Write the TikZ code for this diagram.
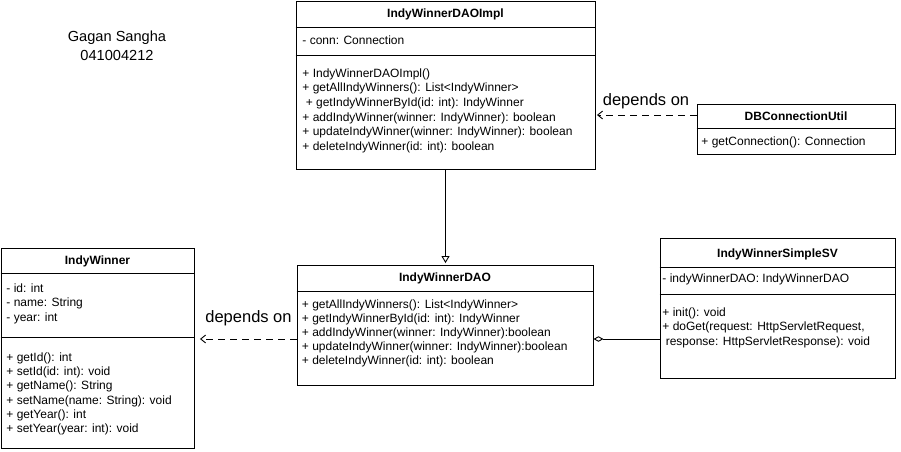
\documentclass[tikz,border=0pt]{standalone}
\usepackage{fontspec}
\setmainfont{Liberation Sans}
\usepackage{tikz}
\usetikzlibrary{arrows.meta}

\begin{document}
\begin{tikzpicture}[x=1pt,y=-1pt,line width=0.9pt,
                    font=\fontsize{12}{14.5}\selectfont]
	\tikzstyle{classbox}=[draw,rectangle,inner sep=0pt]
	\tikzstyle{classname}=[font=\fontsize{12}{14.5}\selectfont\bfseries]
	\tikzstyle{members}=[anchor=north west,inner sep=0pt,align=left]
	\tikzstyle{depends}=[dash pattern=on 7pt off 5pt,
	                     -{Straight Barb[length=5pt,width=8pt,line width=0.9pt]}]
	\tikzstyle{bigtext}=[font=\fontsize{14.6}{19}\selectfont]
	\tikzstyle{labeltext}=[font=\fontsize{16.5}{19}\selectfont]

	\useasboundingbox (0,0) rectangle (901,451);

	% author
	\node[bigtext,align=center] (author) at (117,45.5) {Gagan Sangha\\041004212};

	% classes
	\node[classbox,minimum width=299,minimum height=168] (impl) at (445.5,85) {};
	\node[classname] (impltitle) at (445.5,14.5) {IndyWinnerDAOImpl};
	\draw ([yshift=-27pt]impl.north west) -- ([yshift=-27pt]impl.north east);
	\draw ([yshift=-55pt]impl.north west) -- ([yshift=-55pt]impl.north east);
	\node[anchor=west,inner sep=0pt] (implattr) at (302,40) {- conn: Connection};
	\node[members,font=\fontsize{12}{14.66}\selectfont] (implops) at (302,68)
		{+ IndyWinnerDAOImpl()\\
		 + getAllIndyWinners(): List<IndyWinner>\\
		 \ + getIndyWinnerById(id: int): IndyWinner\\
		 + addIndyWinner(winner: IndyWinner): boolean\\
		 + updateIndyWinner(winner: IndyWinner): boolean\\
		 + deleteIndyWinner(id: int): boolean};

	\node[classbox,minimum width=198,minimum height=50] (dbutil) at (796,129) {};
	\node[classname] (dbutiltitle) at (796,116.5) {DBConnectionUtil};
	\draw ([yshift=-25pt]dbutil.north west) -- ([yshift=-25pt]dbutil.north east);
	\node[anchor=west,inner sep=0pt] (dbutilops) at (701,142) {+ getConnection(): Connection};

	\node[classbox,minimum width=193,minimum height=200] (winner) at (97.5,348) {};
	\node[classname] (winnertitle) at (97.5,261) {IndyWinner};
	\draw ([yshift=-26pt]winner.north west) -- ([yshift=-26pt]winner.north east);
	\draw ([yshift=-90pt]winner.north west) -- ([yshift=-90pt]winner.north east);
	\node[members] (winnerattr) at (6,283)
		{- id: int\\
		 - name: String\\
		 - year: int};
	\node[members,font=\fontsize{12}{14.3}\selectfont] (winnerops) at (6,352)
		{+ getId(): int\\
		 + setId(id: int): void\\
		 + getName(): String\\
		 + setName(name: String): void\\
		 + getYear(): int\\
		 + setYear(year: int): void};

	\node[classbox,minimum width=296,minimum height=120] (dao) at (445,325) {};
	\node[classname] (daotitle) at (445,278.5) {IndyWinnerDAO};
	\draw ([yshift=-27pt]dao.north west) -- ([yshift=-27pt]dao.north east);
	\node[members,font=\fontsize{12}{14}\selectfont] (daoops) at (301.5,299)
		{+ getAllIndyWinners(): List<IndyWinner>\\
		 + getIndyWinnerById(id: int): IndyWinner\\
		 + addIndyWinner(winner: IndyWinner):boolean\\
		 + updateIndyWinner(winner: IndyWinner):boolean\\
		 + deleteIndyWinner(id: int): boolean};

	\node[classbox,minimum width=235,minimum height=140] (servlet) at (777.5,308) {};
	\node[classname] (servlettitle) at (777.5,254) {IndyWinnerSimpleSV};
	\draw ([yshift=-30pt]servlet.north west) -- ([yshift=-30pt]servlet.north east);
	\draw ([yshift=-57pt]servlet.north west) -- ([yshift=-57pt]servlet.north east);
	\node[anchor=west,inner sep=0pt] (servletattr) at (662,279.5) {- indyWinnerDAO: IndyWinnerDAO};
	\node[members,font=\fontsize{12}{14.7}\selectfont] (servletops) at (662,307)
		{+ init(): void\\
		 + doGet(request: HttpServletRequest,\\
		 \ response: HttpServletResponse): void};

	% relations
	\path ([yshift=14pt]dbutil.west)
			edge [depends,shorten >=1.5pt] node[labeltext,above=2pt]{depends on}
			([yshift=14pt]dbutil.west -| impl.east)
		  ([yshift=-14pt]dao.west)
			edge [depends,shorten >=5.5pt] node[labeltext,above=9pt,xshift=3pt]{depends on}
			([yshift=-14pt]dao.west -| winner.east)
		  (impl.south)
			edge [-{Triangle[open,length=7pt,width=8pt,line width=0.9pt]},shorten >=1.5pt]
			(impl.south |- dao.north)
		  ([yshift=-31pt]servlet.west)
			edge [-{Diamond[open,length=10pt,width=5.5pt,line width=0.9pt]}]
			([yshift=-31pt]servlet.west -| dao.east)
		;
\end{tikzpicture}
\end{document}
